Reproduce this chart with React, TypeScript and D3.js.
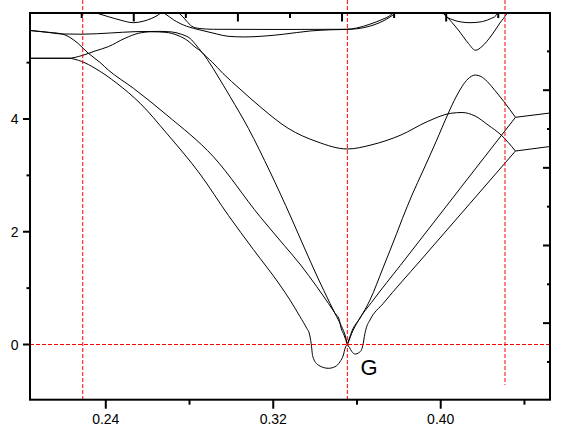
import React from 'react';
import * as d3 from 'd3';

type Pt = [number, number];

// ---- axis domains and ticks ----
const xDomain: Pt = [0.2038, 0.4522];
const yDomain: Pt = [-0.979, 5.88];
const topDomain: Pt = [-0.993, 8.994];
const rightDomain: Pt = [0.014, 4.994];

const xMajorTicks = [0.24, 0.32, 0.4];
const xMinorTicks = [0.28, 0.36, 0.44];
const yMajorTicks = [0, 2, 4];
const yMinorTicks = [1, 3, 5];
const topTicks = [0, 1, 2, 3, 4, 5, 6, 7, 8];
const rightTicks = [0.5, 1, 1.5, 2, 2.5, 3, 3.5, 4, 4.5];

// ---- reference (red dashed) lines ----
const refXs = [0.229, 0.3554, 0.4307];
const refXBottoms = [-0.979, -0.979, -0.718];
const refTop = 6.11;
const refY = 0;
const refYEnd = 0.4532;

const gLabel = { text: 'G', x: 0.3658, y: -0.536 };

// ---- band curves (x, energy) ----
const bandUM: Pt[] = [
  [0.2038, 5.57], [0.211, 5.543], [0.2191, 5.508], [0.2287, 5.504], [0.2421, 5.525],
  [0.254, 5.549], [0.2659, 5.554], [0.2717, 5.543], [0.2764, 5.499], [0.2803, 5.428],
  [0.2831, 5.313], [0.286, 5.18], [0.2908, 5.011], [0.296, 4.807], [0.3041, 4.532],
  [0.3137, 4.218], [0.3271, 3.835], [0.3409, 3.597], [0.3554, 3.468], [0.3667, 3.539],
  [0.381, 3.716], [0.3935, 3.952], [0.4048, 4.101], [0.4102, 4.115], [0.4164, 4.053],
  [0.4226, 3.894], [0.4289, 3.714], [0.4357, 3.432],
];

const bandHS: Pt[] = [
  [0.2038, 5.077], [0.222, 5.077], [0.2287, 5.126], [0.2349, 5.206], [0.2412, 5.283],
  [0.2492, 5.432], [0.2556, 5.52], [0.262, 5.547], [0.2683, 5.538], [0.2745, 5.481],
  [0.2793, 5.384], [0.2826, 5.277], [0.286, 5.18], [0.2893, 5.011], [0.2932, 4.78],
  [0.2994, 4.396], [0.3081, 3.835], [0.3185, 3.06], [0.3284, 2.262], [0.3347, 1.729],
  [0.3411, 1.197], [0.3471, 0.731], [0.3503, 0.493], [0.3527, 0.316], [0.3543, 0.169],
  [0.3554, 0],
];

const bandD1: Pt[] = [
  [0.2038, 5.57], [0.211, 5.543], [0.2191, 5.508], [0.2229, 5.446], [0.2268, 5.339],
  [0.2315, 5.171], [0.2373, 5.002], [0.2412, 4.869], [0.2532, 4.545], [0.2691, 4.071],
  [0.2914, 3.331], [0.3137, 2.267], [0.3252, 1.76], [0.3331, 1.41], [0.3408, 1.025],
  [0.3464, 0.727], [0.3495, 0.553], [0.3514, 0.452], [0.3524, 0.293], [0.3538, 0.169],
  [0.3554, 0],
];

const bandD2: Pt[] = [
  [0.2038, 5.077], [0.222, 5.077], [0.2285, 5.02], [0.2349, 4.899], [0.2453, 4.633],
  [0.2564, 4.279], [0.2691, 3.746], [0.285, 3.024], [0.2986, 2.288], [0.3105, 1.685],
  [0.3232, 1.055], [0.328, 0.789], [0.3328, 0.493], [0.336, 0.287], [0.3373, 0.186],
  [0.3381, 0.021], [0.3389, -0.216], [0.3415, -0.364], [0.3463, -0.422], [0.3495, -0.394],
  [0.3519, -0.305], [0.3535, -0.186], [0.3543, -0.067], [0.3554, 0],
];

const bandR1: Pt[] = [
  [0.3554, 0], [0.3564, 0.115], [0.3576, 0.239], [0.3615, 0.47], [0.3662, 0.789],
  [0.3726, 1.374], [0.379, 1.973], [0.3817, 2.235], [0.3863, 2.652], [0.3917, 3.095],
  [0.3978, 3.601], [0.4036, 4.101], [0.4073, 4.39], [0.4102, 4.577], [0.413, 4.71],
  [0.4166, 4.78], [0.4192, 4.754], [0.4223, 4.662], [0.4259, 4.506], [0.4302, 4.307],
  [0.4357, 4.03],
];

const bandP1: Pt[] = [
  [0.3554, 0], [0.3563, 0.08], [0.3575, 0.199], [0.3599, 0.376], [0.3678, 0.789],
  [0.3806, 1.398], [0.4092, 2.765], [0.4357, 4.03],
];

const bandP2: Pt[] = [
  [0.3554, 0], [0.3564, -0.053], [0.3575, -0.124], [0.3591, -0.169], [0.361, -0.142],
  [0.3622, -0.089], [0.363, 0.021], [0.3635, 0.138], [0.3643, 0.275], [0.3662, 0.435],
  [0.3726, 0.731], [0.3901, 1.481], [0.414, 2.503], [0.4357, 3.432],
];

const tailUpper: Pt[] = [[0.4357, 4.03], [0.4522, 4.106]];
const tailLower: Pt[] = [[0.4357, 3.432], [0.4522, 3.512]];

const bandT1: Pt[] = [
  [0.2339, 5.898], [0.2412, 5.815], [0.2468, 5.756], [0.2532, 5.708], [0.2578, 5.733],
  [0.262, 5.786], [0.265, 5.845], [0.2669, 5.898],
];

const bandT2: Pt[] = [
  [0.2659, 5.916], [0.2688, 5.854], [0.2723, 5.761], [0.2755, 5.694], [0.2787, 5.644],
  [0.2818, 5.609], [0.2874, 5.558], [0.293, 5.508], [0.2984, 5.467], [0.3065, 5.455],
  [0.3161, 5.472], [0.3248, 5.503], [0.3376, 5.561], [0.3471, 5.582], [0.3567, 5.591],
  [0.363, 5.618], [0.3686, 5.676], [0.3734, 5.756], [0.3772, 5.845], [0.3796, 5.916],
];

const bandT3: Pt[] = [
  [0.2736, 5.916], [0.276, 5.845], [0.2787, 5.733], [0.2811, 5.644], [0.285, 5.604],
  [0.2914, 5.591], [0.3232, 5.588], [0.3551, 5.591], [0.3599, 5.614], [0.3662, 5.682],
  [0.372, 5.765], [0.3758, 5.836], [0.3782, 5.916],
];

const bandT4: Pt[] = [
  [0.4001, 5.933], [0.4021, 5.845], [0.4054, 5.712], [0.4084, 5.579], [0.4132, 5.343],
  [0.4166, 5.219], [0.4197, 5.286], [0.4244, 5.49], [0.4283, 5.703], [0.4315, 5.863],
  [0.4326, 5.933],
];

const bandT5: Pt[] = [
  [0.4001, 5.933], [0.4021, 5.836], [0.4054, 5.765], [0.4092, 5.724], [0.414, 5.708],
  [0.4188, 5.721], [0.4235, 5.774], [0.4264, 5.836], [0.4278, 5.916],
];

const allBands: Pt[][] = [
  bandUM, bandHS, bandD1, bandD2, bandR1, bandP1, bandP2, tailUpper, tailLower,
  bandT1, bandT2, bandT3, bandT4, bandT5,
];

// ---- layout ----
const W = 568;
const H = 434;
const L = 30;
const R = 550;
const T = 13;
const B = 399.7;
const FONT = "'Liberation Sans', Arial, Helvetica, sans-serif";

export default function App() {
  const x = d3.scaleLinear().domain(xDomain).range([L, R]);
  const y = d3.scaleLinear().domain(yDomain).range([B, T]);
  const xt = d3.scaleLinear().domain(topDomain).range([L, R]);
  const yr = d3.scaleLinear().domain(rightDomain).range([B, T]);
  const line = d3
    .line<Pt>()
    .x((d) => x(d[0]))
    .y((d) => y(d[1]))
    .curve(d3.curveMonotoneX);
  const fmt = d3.format('.2f');

  return (
    <svg
      width={W}
      height={H}
      style={{ position: 'absolute', left: 0, top: 0, background: '#fff' }}
      fontFamily={FONT}
    >
      <defs>
        <clipPath id="plotClip">
          <rect x={L} y={T} width={R - L} height={B - T} />
        </clipPath>
      </defs>

      <g clipPath="url(#plotClip)" fill="none" stroke="#000" strokeWidth={1}>
        {allBands.map((d, i) => (
          <path key={i} d={line(d) || ''} />
        ))}
      </g>

      <g stroke="#ff0000" strokeWidth={1} strokeDasharray="4,2" fill="none">
        {refXs.map((v, i) => (
          <line key={i} x1={x(v)} x2={x(v)} y1={y(refTop)} y2={y(refXBottoms[i])} />
        ))}
        <line x1={x(xDomain[0])} x2={x(refYEnd)} y1={y(refY)} y2={y(refY)} />
      </g>

      {/* frame */}
      <rect x={L} y={T} width={R - L} height={B - T} fill="none" stroke="#000" strokeWidth={2} />

      {/* bottom ticks (outward) */}
      <g stroke="#000" strokeWidth={2}>
        {xMajorTicks.map((v) => (
          <line key={'xm' + v} x1={x(v)} x2={x(v)} y1={B} y2={B + 9} />
        ))}
        {xMinorTicks.map((v) => (
          <line key={'xn' + v} x1={x(v)} x2={x(v)} y1={B} y2={B + 5} />
        ))}
        {yMajorTicks.map((v) => (
          <line key={'ym' + v} x1={L - 7} x2={L} y1={y(v)} y2={y(v)} />
        ))}
        {yMinorTicks.map((v) => (
          <line key={'yn' + v} x1={L - 3.5} x2={L} y1={y(v)} y2={y(v)} />
        ))}
        {topTicks.map((v) => (
          <line key={'t' + v} x1={xt(v)} x2={xt(v)} y1={T} y2={T + (v % 2 === 1 ? 8.5 : 5)} />
        ))}
        {rightTicks.map((v) => (
          <line key={'r' + v} x1={R - (Number.isInteger(v) ? 7 : 3)} x2={R} y1={yr(v)} y2={yr(v)} />
        ))}
      </g>

      <g fontSize={14} fill="#000">
        {xMajorTicks.map((v) => (
          <text key={'xl' + v} x={x(v)} y={B + 24} textAnchor="middle">
            {fmt(v)}
          </text>
        ))}
        {yMajorTicks.map((v) => (
          <text key={'yl' + v} x={18.5} y={y(v)} dy="0.36em" textAnchor="end">
            {String(v)}
          </text>
        ))}
      </g>

      <text x={x(gLabel.x)} y={y(gLabel.y)} fontSize={22} textAnchor="middle" fill="#000">
        {gLabel.text}
      </text>
    </svg>
  );
}
